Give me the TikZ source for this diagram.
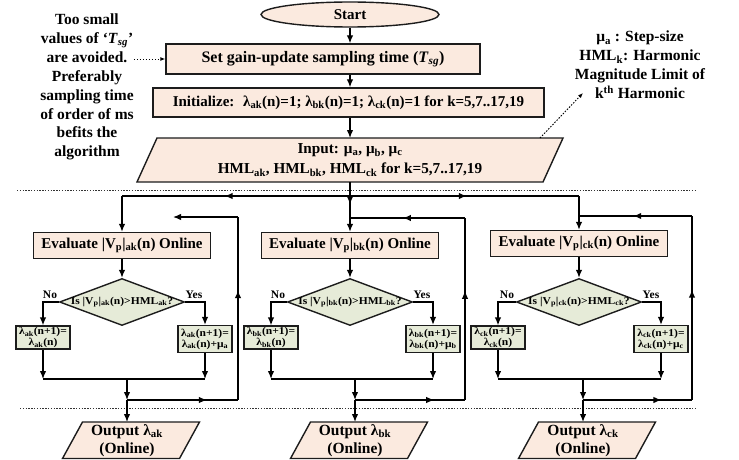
\documentclass[tikz,border=0pt]{standalone}
\usepackage{fontspec}
\setmainfont{Liberation Serif}
\newfontfamily\widefont{Liberation Serif}[FakeStretch=1.1]
\usetikzlibrary{shapes.geometric,arrows.meta,decorations.markings}

\definecolor{peach}{HTML}{FBEADF}
\definecolor{sage}{HTML}{E6EBD8}
\definecolor{edgec}{HTML}{1C1C1C}

\newcommand\sbs[1]{\textsubscript{#1}}

\newcommand\branchsec[9]{%
  \node[box,minimum width=177pt,minimum height=26pt] (ev#1) at (#2,#3) {Evaluate |V\sbs{p}|\sbs{#1k}(n) Online};
  \node[dshape] (dm#1) at (#2,302) {};
  \node[dtext] (dt#1) at (#2,302) {Is |V\sbs{p}|\sbs{#1k}(n)>HML\sbs{#1k}?};
  \node[lbl] (nl#1) at ({#2-72},294.5) {No};
  \node[lbl] (yl#1) at ({#2+72},294.5) {Yes};
  \node[nobox] (no#1) at (#4,337.5) {λ\sbs{#1k}(n+1)=\\λ\sbs{#1k}(n)};
  \node[yesbox] (ye#1) at (#5,339) {λ\sbs{#1k}(n+1)=\\λ\sbs{#1k}(n)+μ\sbs{#1}};
  \coordinate (mL#1) at (#4,379);
  \coordinate (mR#1) at (#5,379);
  \coordinate (mg#1) at (#6,379);
  \coordinate (fb#1) at (#6,400);
  \coordinate (fc#1) at (#8,400);
  \coordinate (ft#1) at (#8,#9);
  \coordinate (ot#1) at (#6,422);
  \draw[pshape] ({#7-48.5},422) -- ({#7+68.5},422) -- ({#7+48.5},458.5) -- ({#7-68.5},458.5) -- cycle;
  \node[font=\bfseries\fontsize{15.5}{18}\selectfont,align=center] (out#1) at ({#7-4},440.5) {Output λ\sbs{#1k}\\(Online)};
  \draw[arr] (ev#1.south) -- (dm#1.north);
  \draw[arr] (dm#1.west) -| (no#1.north);
  \draw[arr] (dm#1.east) -| (ye#1.north);
  \draw[arr] (no#1.south) -- (mL#1);
  \draw[arr] (ye#1.south) -- (mR#1);
  \draw[line] (mL#1) -- (mR#1);
  \draw[arr] (mg#1) -- (fb#1);
  \draw[arr] (fb#1) -- (ot#1);
  \draw[line,midarr=0.72] (fb#1) -- (fc#1);
  \draw[line,midarr=0.6] (fc#1) -- (ft#1);
}

\begin{document}
\begin{tikzpicture}[x=1pt,y=-1pt,
  font=\bfseries\fontsize{15}{18}\selectfont,
  line/.style={draw=black,line width=1.3pt},
  arr/.style={line,-{Latex[length=8pt,width=6.5pt]}},
  midarr/.style={postaction={decorate,decoration={markings,mark=at position #1 with {\arrow{Latex[length=8pt,width=6.5pt]}}}}},
  box/.style={draw=edgec,line width=1.4pt,fill=peach,inner sep=0pt,align=center},
  pshape/.style={draw=edgec,line width=1.4pt,fill=peach},
  dshape/.style={diamond,draw=edgec,line width=1.4pt,fill=sage,minimum width=125pt,minimum height=47pt,inner sep=0pt},
  dtext/.style={inner sep=0pt,font=\widefont\bfseries\fontsize{10.5}{10.5}\selectfont},
  lbl/.style={inner sep=0pt,font=\bfseries\fontsize{11.5}{11.5}\selectfont},
  nobox/.style={draw=edgec,line width=1.2pt,fill=sage,inner sep=0pt,minimum width=54pt,minimum height=23pt,align=center,font=\widefont\bfseries\fontsize{10.5}{11}\selectfont},
  yesbox/.style={nobox,minimum height=27pt},
  sepline/.style={draw=black!80,line width=1pt,dash pattern=on 1.4pt off 1.4pt},
  dotarr/.style={draw=black,line width=0.9pt,dash pattern=on 1.5pt off 1.5pt,-{Latex[length=5pt,width=4pt]}},
  note/.style={align=center,inner sep=0pt,font=\bfseries\fontsize{15.5}{18.9}\selectfont}
]
\useasboundingbox (0,0) rectangle (739,460);

% top part
\node[ellipse,draw=edgec,line width=1.4pt,fill=peach,minimum width=178pt,minimum height=25pt,inner sep=0pt] (start) at (350,14.5) {Start};
\node[box,minimum width=314pt,minimum height=30pt,font=\bfseries\fontsize{16}{18}\selectfont] (set) at (323,59) {Set gain-update sampling time (\textit{T}\sbs{\textit{sg}})};
\node[box,minimum width=391pt,minimum height=29pt] (init) at (348.5,102.5) {Initialize: \ λ\sbs{ak}(n)=1; λ\sbs{bk}(n)=1; λ\sbs{ck}(n)=1 for k=5,7..17,19};
\draw[pshape] (157,138) -- (563,138) -- (543,182) -- (137,182) -- cycle;
\node[align=center,inner sep=0pt,font=\bfseries\fontsize{15.2}{20}\selectfont] (input) at (350,160) {Input: μ\sbs{a}, μ\sbs{b}, μ\sbs{c}\\HML\sbs{ak}, HML\sbs{bk}, HML\sbs{ck} for k=5,7..17,19};
\coordinate (intop) at (350,138);
\coordinate (inb) at (350,182);

\draw[arr] (start.south) -- (start.south |- set.north);
\draw[arr] (start.south |- set.south) -- (start.south |- init.north);
\draw[arr] (start.south |- init.south) -- (intop);

% notes
\node[note] (note1) at (87,87) {Too small\\values of ‘\textit{T}\sbs{\textit{sg}}’\\are avoided.\\Preferably\\sampling time\\of order of ms\\befits the\\algorithm};
\node[note] (note2) at (640,65) {μ\sbs{a} : Step-size\\HML\sbs{k}: Harmonic\\Magnitude Limit of\\k\textsuperscript{th} Harmonic};
\draw[dotarr] (note1.east |- set.west) -- (set.west);
\coordinate (n2tail) at (540,138);
\coordinate (n2head) at (583,93);
\draw[dotarr] (n2tail) -- (n2head);

% separators
\draw[sepline] (17,190) -- (695,190);
\draw[sepline] (20,408) -- (695,408);

% branches
\branchsec{a}{122}{245.5}{43}{205}{127}{131}{238}{217}
\branchsec{b}{350}{245.5}{271}{433}{355}{359}{465}{218}
\branchsec{c}{579}{243.5}{498}{661}{583}{587}{692}{216}

% split
\coordinate (sp) at (350,196);
\coordinate (spL) at (122,196);
\coordinate (spR) at (579,196);
\draw[arr,midarr=0.45] (inb) -- (evb.north);
\draw[line,midarr=0.55] (sp) -- (spL);
\draw[arr] (spL) -- (eva.north);
\draw[line,midarr=0.51] (sp) -- (spR);
\draw[arr] (spR) -- (evc.north);

% feedback tops
\coordinate (fea) at (173,217);
\draw[arr] (fta) -- (fea);
\coordinate (jb) at (350,218);
\draw[line,midarr=0.54] (ftb) -- (jb);
\coordinate (jc) at (579,216);
\draw[line,midarr=0.52] (ftc) -- (jc);
\end{tikzpicture}
\end{document}
